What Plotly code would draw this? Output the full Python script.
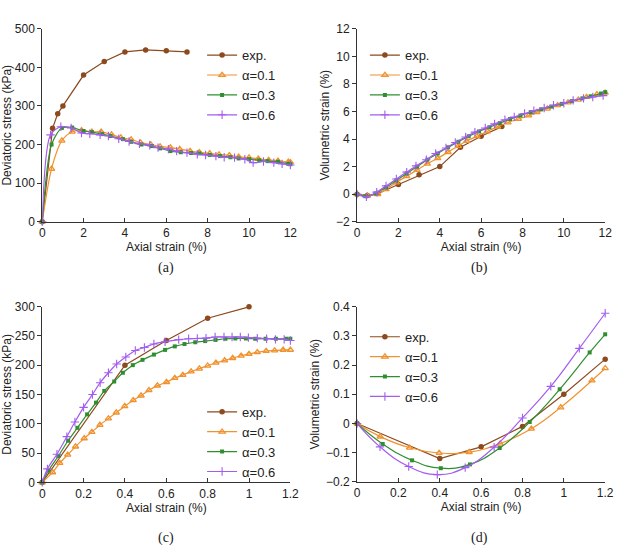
import plotly.graph_objects as go

# ---------------- Panel (a): deviatoric stress vs axial strain (0-12 %) ----------------
a_exp_x = [0, 0.5, 0.75, 1.0, 2, 3, 4, 5, 6, 7]
a_exp_y = [0, 242, 280, 300, 380, 415, 440, 445, 443, 440]

a_01_x = [0, 0.45, 0.95, 1.45, 1.9, 2.4, 2.85, 3.35, 3.8, 4.3, 4.75, 5.25, 5.7, 6.2, 6.65,
          7.15, 7.6, 8.1, 8.55, 9.05, 9.5, 10.0, 10.45, 10.95, 11.4, 11.9, 12.0]
a_01_y = [0, 137, 210, 233, 237, 233, 233, 226, 218, 213, 205, 200, 195, 192, 188,
          183, 180, 177, 174, 172, 168, 166, 163, 160, 158, 155, 154]

a_03_x = [0, 0.45, 0.95, 1.45, 2.0, 2.4, 2.9, 3.3, 3.9, 4.3, 4.8, 5.3, 5.7, 6.2, 6.7,
          7.2, 7.6, 8.1, 8.6, 9.1, 9.5, 10.0, 10.5, 10.9, 11.4, 11.9, 12.0]
a_03_y = [0, 200, 243, 244, 235, 232, 227, 222, 214, 207, 200, 196, 190, 183, 180,
          178, 177, 173, 170, 167, 164, 162, 159, 157, 155, 150, 149]

a_06_x = [0, 0.4, 0.9, 1.4, 1.9, 2.3, 2.8, 3.2, 3.7, 4.2, 4.7, 5.2, 5.6, 6.1, 6.5,
          7.0, 7.5, 7.9, 8.4, 8.8, 9.3, 9.8, 10.2, 10.7, 11.2, 11.6, 12.0]
a_06_y = [0, 225, 246, 243, 230, 228, 225, 222, 215, 208, 202, 198, 192, 188, 183,
          179, 175, 173, 170, 167, 166, 162, 153, 156, 153, 150, 147]

# ---------------- Panel (b): volumetric strain vs axial strain (0-12 %) ----------------
b_exp_x = [0, 0.5, 1.0, 2, 3, 4, 5, 6, 7]
b_exp_y = [0, -0.1, 0.05, 0.7, 1.4, 2.0, 3.4, 4.2, 4.9]

b_01_x = [0, 0.5, 1.0, 1.4, 1.9, 2.4, 2.9, 3.4, 3.9, 4.4, 4.9, 5.3, 5.8, 6.3, 6.8, 7.3,
          7.8, 8.3, 8.7, 9.2, 9.7, 10.2, 10.7, 11.1, 11.6, 12.0]
b_01_y = [0, -0.1, 0.0, 0.35, 0.85, 1.3, 1.75, 2.2, 2.6, 3.05, 3.5, 3.85, 4.2, 4.55, 4.9, 5.2,
          5.45, 5.7, 5.95, 6.2, 6.45, 6.65, 6.85, 7.05, 7.25, 7.35]

b_03_x = [0, 0.4, 0.9, 1.4, 1.9, 2.4, 2.9, 3.4, 3.9, 4.4, 4.9, 5.4, 5.9, 6.4, 6.9, 7.4,
          7.9, 8.4, 8.9, 9.4, 9.9, 10.4, 10.9, 11.3, 11.8, 12.0]
b_03_y = [0, -0.15, 0.05, 0.5, 1.0, 1.5, 2.0, 2.5, 2.95, 3.4, 3.8, 4.2, 4.55, 4.85, 5.15, 5.45,
          5.7, 5.95, 6.15, 6.35, 6.55, 6.75, 6.95, 7.1, 7.3, 7.4]

b_06_x = [0, 0.45, 0.95, 1.4, 1.9, 2.4, 2.85, 3.35, 3.8, 4.3, 4.75, 5.25, 5.7, 6.2, 6.65,
          7.15, 7.6, 8.1, 8.55, 9.05, 9.5, 10.0, 10.45, 10.95, 11.4, 11.9]
b_06_y = [0, -0.2, 0.15, 0.6, 1.1, 1.6, 2.05, 2.5, 2.95, 3.35, 3.75, 4.15, 4.5, 4.8, 5.1,
          5.4, 5.6, 5.85, 6.05, 6.25, 6.45, 6.6, 6.8, 6.95, 7.05, 7.15]

# ---------------- Panel (c): deviatoric stress vs axial strain (0-1.2 %) ----------------
c_exp_x = [0, 0.4, 0.6, 0.8, 1.0]
c_exp_y = [0, 200, 242, 280, 299.5]

c_01_x = [0, 0.05, 0.085, 0.123, 0.161, 0.203, 0.24, 0.279, 0.32, 0.358, 0.399, 0.44, 0.478,
          0.516, 0.557, 0.601, 0.641, 0.68, 0.72, 0.76, 0.80, 0.84, 0.882, 0.921, 0.962, 1.0,
          1.04, 1.083, 1.124, 1.165, 1.2]
c_01_y = [0, 17, 33, 47, 61, 75, 86, 98, 109, 119, 130, 140, 148, 157, 165, 171, 178, 183,
          189, 194, 199, 204, 208, 212, 216, 219, 222, 224, 225, 226, 226]

c_03_x = [0, 0.03, 0.078, 0.125, 0.17, 0.217, 0.26, 0.30, 0.348, 0.39, 0.438, 0.485, 0.54,
          0.594, 0.641, 0.688, 0.74, 0.788, 0.838, 0.886, 0.934, 0.985, 1.03, 1.08, 1.13, 1.18, 1.2]
c_03_y = [0, 20, 45, 71, 93, 116, 136, 156, 172, 187, 200, 209, 218, 226, 232, 236, 239, 241,
          243, 245, 245.5, 245.5, 245, 245, 245, 245, 245]

c_06_x = [0, 0.025, 0.071, 0.119, 0.158, 0.2, 0.243, 0.28, 0.32, 0.36, 0.404, 0.45, 0.494,
          0.54, 0.594, 0.66, 0.708, 0.75, 0.792, 0.836, 0.879, 0.918, 0.958, 0.997, 1.04,
          1.085, 1.128, 1.17, 1.2]
c_06_y = [0, 23, 48, 78, 103, 128, 150, 170, 187, 202, 214, 225, 230, 236, 240, 243.5, 245,
          245.5, 246, 248, 248, 248, 248, 247, 246, 245, 244, 244, 242]

# ---------------- Panel (d): volumetric strain vs axial strain (0-1.2 %) ----------------
d_exp_x = [0, 0.4, 0.6, 0.8, 1.0, 1.2]
d_exp_y = [0, -0.12, -0.08, -0.01, 0.1, 0.22]

d_01_x = [0, 0.112, 0.254, 0.397, 0.542, 0.692, 0.843, 0.985, 1.136, 1.2]
d_01_y = [0, -0.045, -0.083, -0.101, -0.098, -0.069, -0.018, 0.055, 0.147, 0.189]

d_03_x = [0, 0.124, 0.266, 0.405, 0.546, 0.69, 0.835, 0.98, 1.125, 1.2]
d_03_y = [0, -0.07, -0.126, -0.153, -0.14, -0.084, 0.005, 0.117, 0.243, 0.305]

d_06_x = [0, 0.111, 0.25, 0.388, 0.523, 0.663, 0.8, 0.937, 1.075, 1.2]
d_06_y = [0, -0.08, -0.147, -0.175, -0.151, -0.081, 0.019, 0.127, 0.257, 0.377]

names = ["exp.", "\u03b1=0.1", "\u03b1=0.3", "\u03b1=0.6"]
colors = ["#8c4a1e", "#f0922e", "#2f8f2f", "#a25cf0"]
markers = [
    dict(symbol="circle", size=5.5),
    dict(symbol="triangle-up-open", size=5.5, line=dict(width=1.3)),
    dict(symbol="square", size=4),
    dict(symbol="cross-thin", size=6, line=dict(width=1.1)),
]

panels = [
    ("x", "y", "legend", False, [(a_exp_x, a_exp_y), (a_01_x, a_01_y), (a_03_x, a_03_y), (a_06_x, a_06_y)]),
    ("x2", "y2", "legend2", False, [(b_exp_x, b_exp_y), (b_01_x, b_01_y), (b_03_x, b_03_y), (b_06_x, b_06_y)]),
    ("x3", "y3", "legend3", False, [(c_exp_x, c_exp_y), (c_01_x, c_01_y), (c_03_x, c_03_y), (c_06_x, c_06_y)]),
    ("x4", "y4", "legend4", True, [(d_exp_x, d_exp_y), (d_01_x, d_01_y), (d_03_x, d_03_y), (d_06_x, d_06_y)]),
]

fig = go.Figure()
for xa, ya, lg, strong, series in panels:
    for i, (sx, sy) in enumerate(series):
        mk = dict(markers[i])
        mk["color"] = colors[i]
        if "line" in mk:
            mk["line"] = dict(mk["line"], color=colors[i])
        smooth = (i > 0)
        fig.add_trace(go.Scatter(
            x=sx, y=sy, name=names[i], mode="lines+markers",
            line=dict(color=colors[i], width=1.2,
                      shape="spline" if smooth else "linear",
                      smoothing=1.3 if strong else 0.8),
            marker=mk, xaxis=xa, yaxis=ya, legend=lg, cliponaxis=False,
        ))

W, H = 624, 553
def dom(p0, p1):
    return [p0 / W, p1 / W]
def vdom(top, bottom):
    return [1 - bottom / H, 1 - top / H]

font = dict(family="Liberation Sans, Arial, sans-serif", size=12, color="#222")
axcommon = dict(showline=True, linecolor="#333", linewidth=1, showgrid=False, zeroline=False,
                ticks="inside", ticklen=4, tickcolor="#333", tickfont=font, mirror=False)

fig.update_layout(
    width=W, height=H, margin=dict(l=0, r=0, t=0, b=0),
    plot_bgcolor="white", paper_bgcolor="white", font=font,
    xaxis=dict(axcommon, domain=dom(40, 293), range=[0, 12], dtick=2, anchor="y",
               title=dict(text="Axial strain (%)", font=font, standoff=1)),
    yaxis=dict(axcommon, domain=vdom(22.3, 220.3), range=[0, 500], dtick=100, anchor="x",
               ticks="outside", title=dict(text="Deviatoric stress (kPa)", font=font, standoff=3)),
    xaxis2=dict(axcommon, domain=dom(361, 614), range=[0, 12], dtick=2, anchor="y2",
                title=dict(text="Axial strain (%)", font=font, standoff=1)),
    yaxis2=dict(axcommon, domain=vdom(22.3, 220.3), range=[-2, 12], dtick=2, anchor="x2",
                ticks="outside", title=dict(text="Volumetric strain (%)", font=font, standoff=3)),
    xaxis3=dict(axcommon, domain=dom(40, 293), range=[0, 1.2], dtick=0.2, anchor="y3",
                title=dict(text="Axial strain (%)", font=font, standoff=1)),
    yaxis3=dict(axcommon, domain=vdom(307.3, 487.7), range=[0, 300], dtick=50, anchor="x3",
                ticks="outside", title=dict(text="Deviatoric stress (kPa)", font=font, standoff=3)),
    xaxis4=dict(axcommon, domain=dom(361, 614), range=[0, 1.2], dtick=0.2, anchor="y4",
                title=dict(text="Axial strain (%)", font=font, standoff=1)),
    yaxis4=dict(axcommon, domain=vdom(307.3, 487.3), range=[-0.2, 0.4], dtick=0.1, anchor="x4",
                ticks="outside", title=dict(text="Volumetric strain (%)", font=font, standoff=3)),
)

def legend_at(px, py):
    return dict(x=px / W, y=1 - py / H, xanchor="left", yanchor="top", bgcolor="rgba(0,0,0,0)",
                font=dict(family="Liberation Sans, Arial, sans-serif", size=13, color="#222"),
                tracegroupgap=0, itemwidth=30)

fig.update_layout(
    legend=legend_at(203, 34),
    legend2=legend_at(369, 34),
    legend3=legend_at(203, 400),
    legend4=legend_at(369, 323),
)

serif = dict(family="Liberation Serif, DejaVu Serif, serif", size=14, color="#222")
for txt, cx, cy in [("(a)", 166, 268), ("(b)", 486, 268), ("(c)", 166, 545), ("(d)", 486, 545)]:
    fig.add_annotation(text=txt, x=cx / W, y=1 - cy / H, xref="paper", yref="paper",
                       showarrow=False, font=serif, xanchor="center", yanchor="middle")

fig.write_html("out.html")
